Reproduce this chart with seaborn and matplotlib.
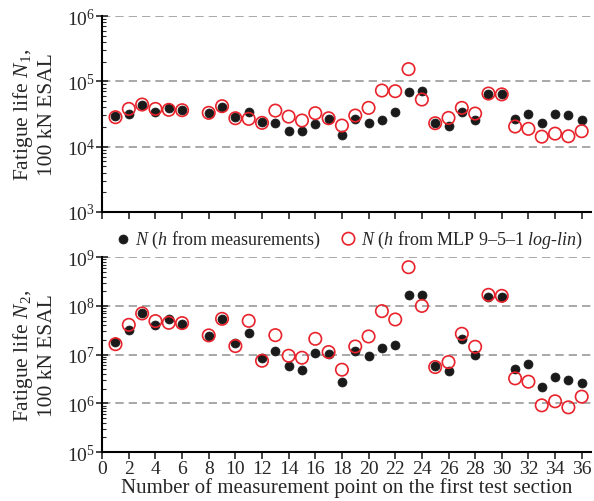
import matplotlib
matplotlib.use("Agg")
import matplotlib.pyplot as plt
import matplotlib.ticker as mticker
import seaborn as sns
import numpy as np

# measurement points (7 is missing in the source)
points = [1, 2, 3, 4, 5, 6, 8, 9, 10, 11, 12, 13, 14, 15, 16, 17, 18, 19, 20,
          21, 22, 23, 24, 25, 26, 27, 28, 29, 30, 31, 32, 33, 34, 35, 36]

# N1, h from measurements
n1_meas = [29200, 32100, 44100, 33700, 39200, 36100, 32900, 41100, 28800, 33700,
           23600, 23300, 17600, 17600, 22500, 26600, 15100, 26600, 22800, 25600,
           33300, 69800, 71400, 23300, 21000, 33700, 25600, 63100, 63100, 26600,
           31300, 23300, 31300, 30900, 25400]
# N1, h from MLP 9-5-1 log-lin
n1_mlp = [28200, 37800, 44100, 37800, 36600, 36100, 32900, 41600, 27200, 26600,
          23100, 35600, 28800, 25100, 32500, 27200, 21000, 29900, 39200, 72300,
          70600, 153800, 52600, 22800, 27500, 39200, 32100, 65000, 63100, 20300,
          18700, 14200, 15800, 14400, 17200]

# N2, h from measurements
n2_meas = [1.78e7, 3.24e7, 7.0e7, 4.04e7, 5.36e7, 4.24e7, 2.4e7, 5.36e7, 1.72e7, 2.76e7,
           8.49e6, 1.2e7, 5.82e6, 4.74e6, 1.09e7, 1.01e7, 2.69e6, 1.2e7, 9.33e6, 1.34e7,
           1.57e7, 1.66e8, 1.69e8, 5.92e6, 4.59e6, 2.08e7, 1.0e7, 1.54e8, 1.54e8, 5.05e6,
           6.5e6, 2.19e6, 3.52e6, 3.01e6, 2.57e6]
# N2, h from MLP 9-5-1 log-lin
n2_mlp = [1.64e7, 4.09e7, 7.0e7, 4.88e7, 4.5e7, 4.44e7, 2.48e7, 5.43e7, 1.5e7, 4.94e7,
          7.48e6, 2.51e7, 9.48e6, 8.63e6, 2.11e7, 1.13e7, 4.9e6, 1.47e7, 2.36e7, 7.82e7,
          5.27e7, 6.24e8, 1.0e8, 5.55e6, 7.03e6, 2.68e7, 1.45e7, 1.69e8, 1.61e8, 3.25e6,
          2.78e6, 9.08e5, 1.1e6, 8.26e5, 1.37e6]

x_ticks = list(range(0, 37, 2))

RED = "#e8232b"
BLACK = "#1a1a1a"

sns.set_style("ticks")
plt.rcParams["font.family"] = ["Liberation Serif", "DejaVu Serif"]
plt.rcParams["mathtext.fontset"] = "custom"
plt.rcParams["mathtext.rm"] = "Liberation Serif"
plt.rcParams["mathtext.it"] = "Liberation Serif:italic"
plt.rcParams["mathtext.bf"] = "Liberation Serif:bold"

fig = plt.figure(figsize=(5.94, 5.02), dpi=100)
ax1 = fig.add_axes([0.172, 0.576, 0.823, 0.390])
ax2 = fig.add_axes([0.172, 0.0976, 0.823, 0.388])


def draw_panel(ax, meas, mlp, ylim, ylabel):
    sns.scatterplot(x=points, y=meas, ax=ax, s=42, color=BLACK, edgecolor=BLACK,
                    linewidth=0.5, zorder=3, label="$N$ ($h$ from measurements)")
    sns.scatterplot(x=points, y=mlp, ax=ax, s=80, facecolors="none", edgecolor=RED,
                    linewidth=1.2, zorder=4,
                    label="$N$ ($h$ from MLP 9\u20135\u20131 $log$-$lin$)")
    ax.set_yscale("log")
    ax.set_ylim(ylim)
    ax.set_xlim(0, 36.7)
    ax.set_xticks(x_ticks)
    ax.yaxis.set_major_locator(mticker.LogLocator(base=10, numticks=12))
    ax.yaxis.set_minor_locator(mticker.LogLocator(base=10, subs=np.arange(2, 10), numticks=12))
    ax.yaxis.grid(True, which="major", linestyle=(0, (5, 3)), color="#9a9a9a", lw=1.2)
    ax.xaxis.grid(False)
    for s in ["top", "right"]:
        ax.spines[s].set_visible(False)
    for s in ["left", "bottom"]:
        ax.spines[s].set_linewidth(1.5)
        ax.spines[s].set_color("black")
    ax.tick_params(axis="y", which="major", direction="inout", length=8, width=1.2,
                   labelsize=14, pad=1)
    ax.tick_params(axis="y", which="minor", direction="in", length=3, width=0.8)
    ax.tick_params(axis="x", which="major", direction="out", length=5, width=1.2,
                   labelsize=14, pad=1)
    ax.set_ylabel(ylabel, fontsize=15.5, linespacing=1.2)
    ax.yaxis.set_label_coords(-0.092, 0.5)
    if ax.get_legend() is not None:
        ax.get_legend().remove()


draw_panel(ax1, n1_meas, n1_mlp, (1e3, 1e6), "Fatigue life $N_1$,\n100 kN ESAL")
draw_panel(ax2, n2_meas, n2_mlp, (1e5, 1e9), "Fatigue life $N_2$,\n100 kN ESAL")
ax1.tick_params(axis="x", labelbottom=False)
ax2.set_xlabel("Number of measurement point on the first test section", fontsize=15,
               labelpad=0)

handles, labels = ax1.get_legend_handles_labels()
fig.legend(handles, labels, loc="center", bbox_to_anchor=(0.585, 0.522), ncol=2,
           frameon=False, fontsize=13, handletextpad=0.1, columnspacing=0.9,
           borderpad=0, handlelength=1.2)

fig.savefig("out.png", dpi=100)
